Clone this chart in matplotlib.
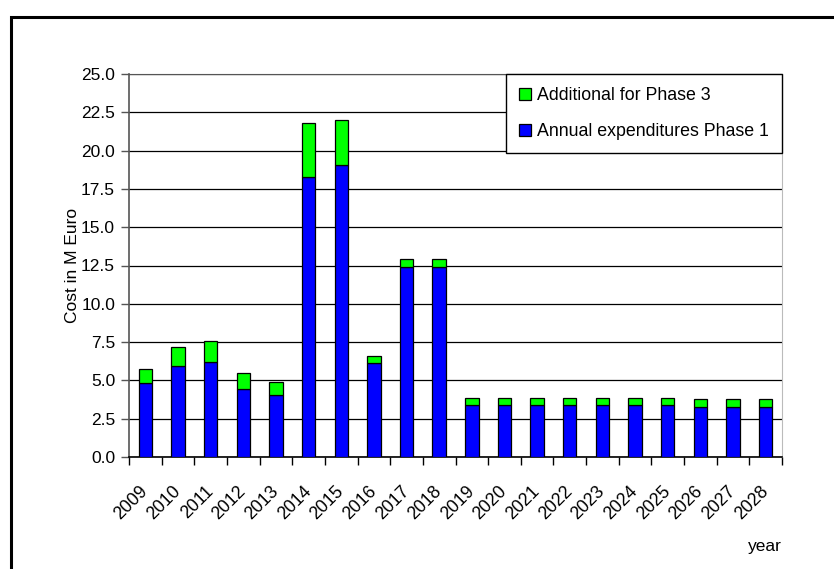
import matplotlib
matplotlib.use("Agg")
import matplotlib.pyplot as plt
import matplotlib.patches as mpatches
import numpy as np

plt.rcParams['font.family'] = ['Liberation Sans', 'DejaVu Sans']

years = [str(y) for y in range(2009, 2029)]
phase1 = [4.8, 5.95, 6.2, 4.45, 4.05, 18.27, 19.06, 6.13, 12.38, 12.38,
          3.37, 3.37, 3.37, 3.37, 3.37, 3.37, 3.37, 3.24, 3.24, 3.24]
total = [5.72, 7.16, 7.55, 5.5, 4.87, 21.78, 21.99, 6.61, 12.9, 12.9,
         3.85, 3.85, 3.85, 3.85, 3.85, 3.85, 3.85, 3.76, 3.76, 3.76]
phase3_add = [t - p for t, p in zip(total, phase1)]
yticks = [0.0, 2.5, 5.0, 7.5, 10.0, 12.5, 15.0, 17.5, 20.0, 22.5, 25.0]

W, H = 834, 569
fig = plt.figure(figsize=(W / 100, H / 100), dpi=100)
ax = fig.add_axes([129 / W, 1 - 457 / H, (782 - 129) / W, (457 - 74) / H])

x = np.arange(len(years))
ax.bar(x, phase1, width=0.41, color='#0000FF', edgecolor='black', linewidth=0.9,
       label='Annual expenditures Phase 1', zorder=3)
ax.bar(x, phase3_add, bottom=phase1, width=0.41, color='#00FF00', edgecolor='black',
       linewidth=0.9, label='Additional for Phase 3', zorder=3)

ax.set_xlim(-0.5, len(years) - 0.5)
ax.set_ylim(0, 25)
ax.set_yticks(yticks)
ax.set_yticklabels([f"{v:.1f}" for v in yticks], fontsize=12.5)
ax.yaxis.grid(True, color='black', linewidth=0.9, zorder=0)
ax.set_axisbelow(True)

ax.set_xticks(x)
ax.set_xticklabels(years, rotation=45, ha='right', va='center',
                   rotation_mode='anchor', fontsize=12.8)
ax.tick_params(axis='x', which='major', length=0, pad=23)
ax.set_xticks(np.arange(-0.5, len(years), 1.0), minor=True)
ax.tick_params(axis='x', which='minor', length=6, direction='out', color='black', width=1)
ax.tick_params(axis='y', length=6, direction='out', color='#555555', width=1, pad=4)

ax.spines['left'].set_color('#555555')
ax.spines['left'].set_linewidth(1.2)
ax.spines['bottom'].set_color('black')
ax.spines['bottom'].set_linewidth(1.2)
ax.spines['top'].set_color('#555555')
ax.spines['right'].set_color('#bbbbbb')

ax.set_ylabel('Cost in M Euro', fontsize=12.5, labelpad=1)

handles, labels = ax.get_legend_handles_labels()
leg = ax.legend(handles[::-1], labels[::-1], loc='upper right',
                bbox_to_anchor=(1.0, 1.0), fontsize=12.8, frameon=True,
                fancybox=False, edgecolor='black', framealpha=1,
                handlelength=0.7, handleheight=0.7, handletextpad=0.3,
                borderpad=0.75, labelspacing=1.05, borderaxespad=0)
leg.get_frame().set_linewidth(1.0)
leg.set_zorder(5)

fig.text(782 / W, 1 - 547 / H, 'year', ha='right', va='center', fontsize=12.5)

rect = mpatches.Rectangle((11 / W, -0.2), 1.2, 0.2 + 1 - 17 / H,
                          transform=fig.transFigure, fill=False,
                          edgecolor='black', linewidth=2.2, clip_on=False)
fig.patches.append(rect)

fig.savefig('out.png', dpi=100)
